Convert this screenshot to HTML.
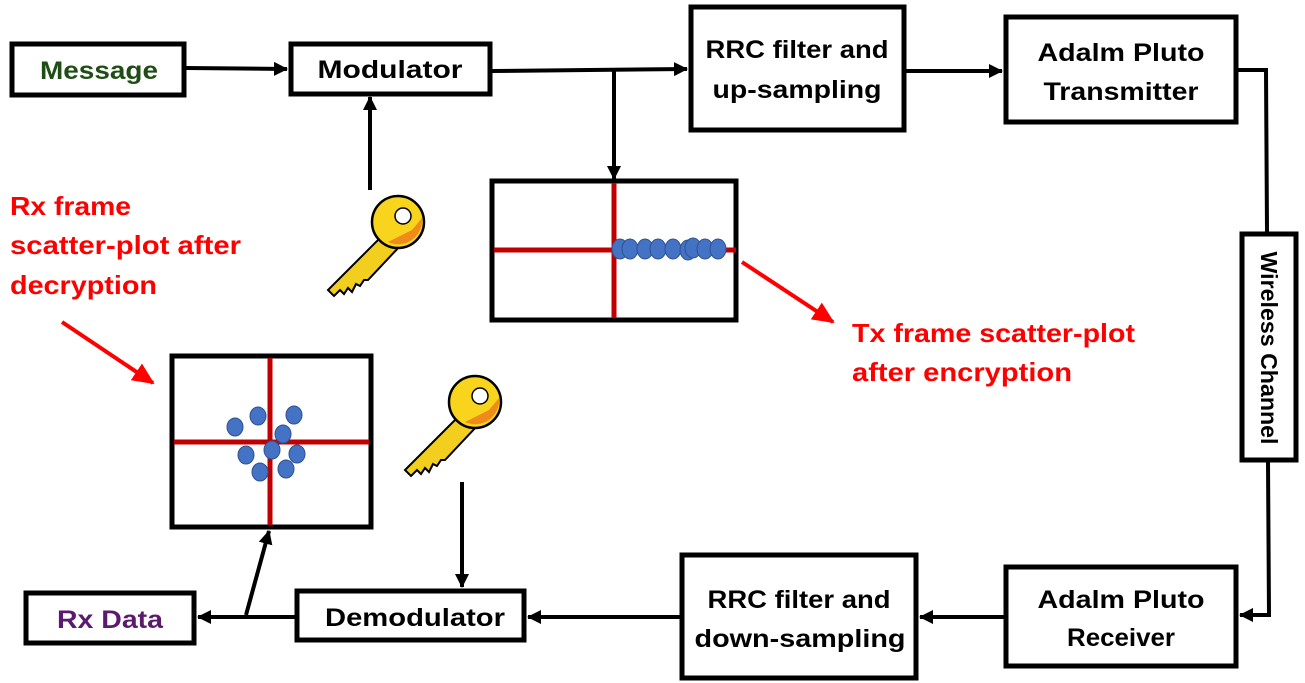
<!DOCTYPE html>
<html><head><meta charset="utf-8"><style>
html,body{margin:0;padding:0;background:#fff;}
svg{display:block;}
text{font-family:"Liberation Sans","DejaVu Sans",sans-serif;font-weight:bold;}
</style></head><body>
<svg width="1305" height="683" viewBox="0 0 1305 683" xmlns="http://www.w3.org/2000/svg">
<defs>
<marker id="ah" markerWidth="14" markerHeight="14" refX="13" refY="7" orient="auto" markerUnits="userSpaceOnUse"><path d="M0,0 L14,7 L0,14 Z" fill="#000"/></marker>
<marker id="ahr" markerWidth="22" markerHeight="20" refX="20" refY="10" orient="auto" markerUnits="userSpaceOnUse"><path d="M0,0 L22,10 L0,20 Z" fill="#f00"/></marker>
<g id="key">
<path d="M-10,8 L-70,68 L-64,74 L-58,68 L-54,72 L-50,66 L-46,70 L-42,62 L-38,64 L-34,58 L-30,58 L2,24 Z" fill="#f2cf1f" stroke="#000" stroke-width="2"/>
<circle cx="0" cy="0" r="26" fill="#f8d51c" stroke="#000" stroke-width="2.5"/>
<path d="M-10,20 A24,24 0 0 0 24,-4 L14,8 Z" fill="#f08a1a"/>
<circle cx="5" cy="-6" r="8" fill="#fff" stroke="#000" stroke-width="1.5"/>
</g>
</defs>

<g fill="#fff" stroke="#000" stroke-width="5">
<rect x="12" y="44" width="172" height="51"/>
<rect x="291" y="44" width="199" height="50"/>
<rect x="691" y="7" width="213" height="123"/>
<rect x="1006" y="17" width="230" height="105"/>
<rect x="1242" y="234" width="54" height="226"/>
<rect x="1006" y="567" width="230" height="99"/>
<rect x="682" y="555" width="234" height="123"/>
<rect x="297" y="591" width="227" height="49"/>
<rect x="26" y="593" width="168" height="50"/>
<rect x="492" y="181" width="244" height="139"/>
<rect x="172" y="356" width="199" height="171"/>
</g>

<g stroke="#c00000" stroke-width="5">
<line x1="494" y1="250" x2="736" y2="250"/>
<line x1="614" y1="183" x2="614" y2="318"/>
<line x1="174" y1="442" x2="369" y2="442"/>
<line x1="270" y1="358" x2="270" y2="525"/>
</g>
<g fill="#4472c4" stroke="#2f528f" stroke-width="1">
<ellipse cx="620" cy="249" rx="8" ry="10"/><ellipse cx="630" cy="249" rx="8" ry="10"/>
<ellipse cx="645" cy="249" rx="8" ry="10"/><ellipse cx="658" cy="249" rx="8" ry="10"/>
<ellipse cx="673" cy="249" rx="8" ry="10"/><ellipse cx="688" cy="250" rx="8" ry="10"/>
<ellipse cx="693" cy="248" rx="8" ry="10"/><ellipse cx="705" cy="249" rx="8" ry="10"/>
<ellipse cx="718" cy="249" rx="8" ry="10"/>
<ellipse cx="235" cy="427" rx="8" ry="9"/><ellipse cx="258" cy="416" rx="8" ry="9"/>
<ellipse cx="294" cy="415" rx="8" ry="9"/><ellipse cx="283" cy="434" rx="8" ry="9"/>
<ellipse cx="246" cy="455" rx="8" ry="9"/><ellipse cx="272" cy="450" rx="8" ry="9"/>
<ellipse cx="297" cy="454" rx="8" ry="9"/><ellipse cx="260" cy="472" rx="8" ry="9"/>
<ellipse cx="286" cy="469" rx="8" ry="9"/>
</g>

<g stroke="#000" stroke-width="4" fill="none">
<line x1="186" y1="68" x2="287" y2="69" marker-end="url(#ah)"/>
<line x1="492" y1="71" x2="687" y2="69" marker-end="url(#ah)"/>
<line x1="614" y1="70" x2="614" y2="179" marker-end="url(#ah)"/>
<line x1="370" y1="190" x2="370" y2="97" marker-end="url(#ah)"/>
<line x1="906" y1="71" x2="1002" y2="71" marker-end="url(#ah)"/>
<polyline points="1238,70 1266,70 1267,232"/>
<polyline points="1268,462 1269,615 1240,615" marker-end="url(#ah)"/>
<line x1="1004" y1="617" x2="920" y2="617" marker-end="url(#ah)"/>
<line x1="680" y1="617" x2="528" y2="617" marker-end="url(#ah)"/>
<line x1="295" y1="617" x2="198" y2="617" marker-end="url(#ah)"/>
<line x1="246" y1="615" x2="269" y2="531" marker-end="url(#ah)"/>
<line x1="462" y1="482" x2="462" y2="587" marker-end="url(#ah)"/>
</g>
<g stroke="#f00" stroke-width="4">
<line x1="742" y1="262" x2="833" y2="322" marker-end="url(#ahr)"/>
<line x1="62" y1="322" x2="153" y2="383" marker-end="url(#ahr)"/>
</g>

<use href="#key" transform="translate(398,222)"/>
<use href="#key" transform="translate(475,402)"/>

<g font-size="25" text-anchor="middle" fill="#000" lengthAdjust="spacingAndGlyphs">
<text x="99" y="79" fill="#1e4d16" textLength="118" lengthAdjust="spacingAndGlyphs">Message</text>
<text x="390" y="78" textLength="145" lengthAdjust="spacingAndGlyphs">Modulator</text>
<text x="797" y="58" textLength="183" lengthAdjust="spacingAndGlyphs">RRC filter and</text>
<text x="797" y="98" textLength="169" lengthAdjust="spacingAndGlyphs">up-sampling</text>
<text x="1121" y="61" textLength="167" lengthAdjust="spacingAndGlyphs">Adalm Pluto</text>
<text x="1121" y="100" textLength="155" lengthAdjust="spacingAndGlyphs">Transmitter</text>
<text x="1121" y="608" textLength="167" lengthAdjust="spacingAndGlyphs">Adalm Pluto</text>
<text x="1121" y="646" textLength="108" lengthAdjust="spacingAndGlyphs">Receiver</text>
<text x="799" y="608" textLength="183" lengthAdjust="spacingAndGlyphs">RRC filter and</text>
<text x="800" y="647" textLength="211" lengthAdjust="spacingAndGlyphs">down-sampling</text>
<text x="415" y="626" textLength="180" lengthAdjust="spacingAndGlyphs">Demodulator</text>
<text x="110" y="628" fill="#5c1a6e" textLength="106" lengthAdjust="spacingAndGlyphs">Rx Data</text>
<text transform="translate(1261,348) rotate(90)" font-size="23" textLength="193" lengthAdjust="spacingAndGlyphs">Wireless Channel</text>
</g>
<g font-size="26" fill="#f00">
<text x="10" y="215" textLength="121" lengthAdjust="spacingAndGlyphs">Rx frame</text>
<text x="10" y="254" textLength="231" lengthAdjust="spacingAndGlyphs">scatter-plot after</text>
<text x="10" y="294" textLength="147" lengthAdjust="spacingAndGlyphs">decryption</text>
<text x="852" y="342" textLength="283" lengthAdjust="spacingAndGlyphs">Tx frame scatter-plot</text>
<text x="852" y="381" textLength="220" lengthAdjust="spacingAndGlyphs">after encryption</text>
</g>
</svg>
</body></html>
